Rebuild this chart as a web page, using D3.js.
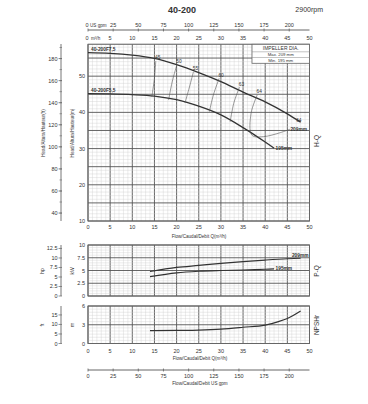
<!DOCTYPE html>
<html><head><meta charset="utf-8">
<script src="https://cdn.jsdelivr.net/npm/d3@7"></script>
<style>body{margin:0;background:#fff}svg{display:block}text{font-family:"Liberation Sans",Arial,sans-serif;fill:#333}</style>
</head><body><svg id="c" width="368" height="404"></svg>
<script>
// ---- data ----
const flowTicks = [0,5,10,15,20,25,30,35,40,45,50];
const gpmTicks = [25,50,75,100,125,150,175,200];
const gpmTicksBottom = [0,25,50,75,100,125,150,175,200];
const headTicks = [10,20,30,40,50];
const ftTicks = [40,60,80,100,120,140,160,180];
const kwTicks = [0,2.5,5,7.5,10];
const hpTicks = [0,2.5,5,7.5,10,12.5];
const npshTicks = [0,3,6];
const npshFtTicks = [0,5,10,15];

const qH209 = [0,5,10,15,20,25,30,35,40,45,48];
const h209  = [56.5,56.3,55.8,54.9,53.2,51.0,48.5,45.6,42.9,39.6,37.3];
const qH195 = [0,5,10,15,20,25,30,35,40,42];
const h195  = [45.2,45.1,44.9,44.5,43.5,41.7,39.3,35.8,31.8,30.1];

const effValues = [45,50,55,60,63,64];
const effQ = [[15.3,15.0,14.4],[20.1,19.0,18.2],[23.8,22.9,21.9],[29.6,28.3,27.4],[34.2,32.9,32.1],[38.2,36.8,37.0,39.6,43.4,45.7]];
const effH = [[54.2,49.4,44.3],[53.3,48.4,43.4],[51.2,47.0,42.6],[49.4,44.8,40.2],[47.0,42.5,37.4],[44.8,39.7,33.7,33.3,34.4,35.4]];
const endEffLabel = {text:"64", q:47.6, h:38.0};

const qP209 = [14,20,25,30,35,40,45,48];
const p209  = [4.8,5.6,6.0,6.4,6.75,7.05,7.3,7.4];
const qP195 = [14,20,25,30,35,40,42];
const p195  = [3.8,4.55,4.85,5.0,5.1,5.25,5.3];

const qN = [14,20,25,30,35,40,43,45,48];
const npsh = [2.05,2.1,2.15,2.3,2.6,2.95,3.5,4.0,5.2];

const GPM = 4.4029, FT = 3.2808, HP = 0.7457;

// ---- scales ----
const svg = d3.select("#c");
const x = d3.scaleLinear([0,50],[88,309.5]);
const yH = d3.scaleLinear([10,58.8],[221,44.3]);
const yP = d3.scaleLinear([0,10],[296,245]);
const yN = d3.scaleLinear([0,6],[343.5,306]);
const xG = d3.scaleLinear([0,50*GPM],[88,309.5]);

const dark="#555", light="#cfcfcf";
function grid(y, yMin, yMax, yMajorStep, yMinorStep){
  const g = svg.append("g");
  const [y0,y1] = [y(yMin), y(yMax)];
  for(let q=0;q<=50;q+=1){
    g.append("line").attr("x1",x(q)).attr("x2",x(q)).attr("y1",y0).attr("y2",y1)
      .attr("stroke", q%5===0?dark:light).attr("stroke-width", q%5===0?0.9:0.4);
  }
  const n = Math.round((yMax-yMin)/yMinorStep);
  for(let i=0;i<=n;i++){
    const v = yMin + i*yMinorStep;
    const major = Math.abs((v-yMin)/yMajorStep - Math.round((v-yMin)/yMajorStep))<1e-6;
    g.append("line").attr("x1",x(0)).attr("x2",x(50)).attr("y1",y(v)).attr("y2",y(v))
      .attr("stroke", major?dark:light).attr("stroke-width", major?0.9:0.4);
  }
  g.append("rect").attr("x",x(0)).attr("y",y1).attr("width",x(50)-x(0)).attr("height",y0-y1)
    .attr("fill","none").attr("stroke","#666").attr("stroke-width",1);
}
grid(yH,10,58.8,5,1);
grid(yP,0,10,2.5,0.5);
grid(yN,0,6,3,0.5);

// ---- left value axes ----
function leftLabels(y, ticks){
  ticks.forEach(t=>svg.append("text").attr("x",85).attr("y",y(t)+2).attr("text-anchor","end")
    .attr("font-size",5.5).text(t));
}
leftLabels(yH, headTicks);
leftLabels(yP, kwTicks);
leftLabels(yN, npshTicks);

function outerAxis(yFn, ticks, minorStep, top, bottom){
  const g = svg.append("g");
  g.append("line").attr("x1",61).attr("x2",61).attr("y1",top).attr("y2",bottom).attr("stroke","#666").attr("stroke-width",0.9);
  if(minorStep){
    for(let v=ticks[0]-minorStep*2; v<=ticks[ticks.length-1]+minorStep; v+=minorStep){
      const yy=yFn(v); if(yy<top||yy>bottom) continue;
      g.append("line").attr("x1",59.5).attr("x2",62).attr("y1",yy).attr("y2",yy).attr("stroke","#666").attr("stroke-width",0.6);
    }
  }
  ticks.forEach(t=>{
    const yy=yFn(t);
    g.append("line").attr("x1",58.5).attr("x2",62).attr("y1",yy).attr("y2",yy).attr("stroke","#666").attr("stroke-width",0.7);
    g.append("text").attr("x",57.5).attr("y",yy+2).attr("text-anchor","end").attr("font-size",5.5).text(t);
  });
}
outerAxis(v=>yH(v/FT), ftTicks, 10, 44, 221);
outerAxis(v=>yP(v*HP), hpTicks, 0, 245, 296);
outerAxis(v=>yN(v/FT), npshFtTicks, 0, 306, 343.5);

function vlabel(txt, xx, yy, size, rot){
  svg.append("text").attr("transform",`translate(${xx},${yy}) rotate(${rot||-90})`).attr("text-anchor","middle")
    .attr("font-size",size).text(txt);
}
vlabel("Head/Altura/Hauteur(ft)",45,133,4.6);
vlabel("Head/Altura/Hauteur(m)",74,133,4.6);
vlabel("hp",44,271,5);
vlabel("kW",74,271,5);
vlabel("ft",44,325,5);
vlabel("m",74,325,5);
vlabel("H-Q",319,141,6.5);
vlabel("P-Q",319,271,6.5);
vlabel("NPSHr",319,325,6.5);

// ---- x labels ----
flowTicks.forEach(t=>{
  svg.append("text").attr("x",x(t)).attr("y",229).attr("text-anchor","middle").attr("font-size",5.5).text(t);
  svg.append("text").attr("x",x(t)).attr("y",353).attr("text-anchor","middle").attr("font-size",5.5).text(t);
});
svg.append("text").attr("x",199).attr("y",238).attr("text-anchor","middle").attr("font-size",4.6).text("Flow/Caudal/Debit Q(m³/h)");
svg.append("text").attr("x",200).attr("y",360).attr("text-anchor","middle").attr("font-size",4.6).text("Flow/Caudal/Debit Q(m³/h)");

// top m3/h labels
flowTicks.forEach(t=>{
  svg.append("text").attr("x",x(t)+(t===0?-1:0)).attr("y",40).attr("text-anchor","middle").attr("font-size",5.5).text(t);
});
svg.append("text").attr("x",x(0)+3).attr("y",40).attr("font-size",4.6).text("m³/h");

// top gpm axis
svg.append("line").attr("x1",x(0)).attr("x2",x(50)).attr("y1",30).attr("y2",30).attr("stroke","#555").attr("stroke-width",0.9);
[0].concat(gpmTicks).forEach(t=>{
  svg.append("line").attr("x1",xG(t)).attr("x2",xG(t)).attr("y1",28.5).attr("y2",31.5).attr("stroke","#555").attr("stroke-width",0.7);
});
gpmTicks.forEach(t=>svg.append("text").attr("x",xG(t)).attr("y",27).attr("text-anchor","middle").attr("font-size",5.5).text(t));
svg.append("text").attr("x",x(0)-1).attr("y",27).attr("text-anchor","middle").attr("font-size",5.5).text("0");
svg.append("text").attr("x",x(0)+2).attr("y",27).attr("font-size",4.6).text("US gpm");

// bottom gpm axis
svg.append("line").attr("x1",x(0)).attr("x2",x(50)).attr("y1",370).attr("y2",370).attr("stroke","#555").attr("stroke-width",0.9);
gpmTicksBottom.forEach(t=>{
  svg.append("line").attr("x1",xG(t)).attr("x2",xG(t)).attr("y1",368.5).attr("y2",371.5).attr("stroke","#555").attr("stroke-width",0.7);
  svg.append("text").attr("x",xG(t)).attr("y",378).attr("text-anchor","middle").attr("font-size",5.5).text(t);
});
svg.append("text").attr("x",200).attr("y",385).attr("text-anchor","middle").attr("font-size",4.6).text("Flow/Caudal/Debit  US gpm");

// ---- title ----
svg.append("text").attr("x",182).attr("y",13).attr("text-anchor","middle").attr("font-size",9).attr("font-weight","bold").text("40-200");
svg.append("text").attr("x",323).attr("y",12).attr("text-anchor","end").attr("font-size",7).text("2900rpm");

// ---- curves ----
const curveStyle = (p,w)=>p.attr("fill","none").attr("stroke","#333").attr("stroke-width",w||1.2);
function drawCurve(qs, vs, y, w){
  const line = d3.line().x(d=>x(d[0])).y(d=>y(d[1])).curve(d3.curveMonotoneX);
  curveStyle(svg.append("path").attr("d",line(qs.map((q,i)=>[q,vs[i]]))), w);
}
drawCurve(qH209,h209,yH,1.3);
drawCurve(qH195,h195,yH,1.3);
// efficiency iso lines
effValues.forEach((e,k)=>{
  const pts = effQ[k].map((q,i)=>[x(q),yH(effH[k][i])]);
  svg.append("path").attr("d",d3.line().curve(d3.curveCatmullRom)(pts)).attr("fill","none").attr("stroke","#555").attr("stroke-width",0.6);
  svg.append("text").attr("x",pts[0][0]+2).attr("y",pts[0][1]-1.5).attr("text-anchor","middle").attr("font-size",4.8).text(e);
});
svg.append("text").attr("x",x(endEffLabel.q)).attr("y",yH(endEffLabel.h)+2).attr("text-anchor","middle").attr("font-size",4.8).text(endEffLabel.text);

svg.append("text").attr("x",91).attr("y",yH(h209[0])-1.5).attr("font-size",4.8).attr("font-weight","bold").text("40-200F7,5");
svg.append("text").attr("x",91).attr("y",yH(h195[0])-2).attr("font-size",4.8).attr("font-weight","bold").text("40-200F5,5");
svg.append("text").attr("x",x(45.7)).attr("y",yH(35.4)+1.8).attr("font-size",4.8).attr("font-weight","bold").text("209mm");
svg.append("text").attr("x",x(qH195[qH195.length-1])+1.5).attr("y",yH(h195[h195.length-1])+1.8).attr("font-size",4.8).attr("font-weight","bold").text("195mm");

drawCurve(qP209,p209,yP,1.2);
drawCurve(qP195,p195,yP,1.2);
svg.append("text").attr("x",x(50)-1).attr("y",yP(p209[p209.length-1])-1.5).attr("text-anchor","end").attr("font-size",4.8).attr("font-weight","bold").text("209mm");
svg.append("text").attr("x",x(qP195[qP195.length-1])+1.5).attr("y",yP(p195[p195.length-1])+1.5).attr("font-size",4.8).attr("font-weight","bold").text("195mm");

drawCurve(qN,npsh,yN,1.2);

// ---- impeller box ----
const bx=252, bw=x(50)-252, by=yH(58.8);
const box = svg.append("g");
box.append("rect").attr("x",bx).attr("y",by).attr("width",bw).attr("height",19).attr("fill","#fff").attr("stroke","#666").attr("stroke-width",0.8);
box.append("line").attr("x1",bx).attr("x2",bx+bw).attr("y1",by+7.5).attr("y2",by+7.5).attr("stroke","#888").attr("stroke-width",0.5);
box.append("line").attr("x1",bx).attr("x2",bx+bw).attr("y1",by+13.2).attr("y2",by+13.2).attr("stroke","#888").attr("stroke-width",0.5);
box.append("text").attr("x",bx+bw/2).attr("y",by+5.8).attr("text-anchor","middle").attr("font-size",5).text("IMPELLER DIA.");
box.append("text").attr("x",bx+bw/2).attr("y",by+12).attr("text-anchor","middle").attr("font-size",4.3).text("Max.  209  mm");
box.append("text").attr("x",bx+bw/2).attr("y",by+17.6).attr("text-anchor","middle").attr("font-size",4.3).text("Min.  195  mm");
</script></body></html>
